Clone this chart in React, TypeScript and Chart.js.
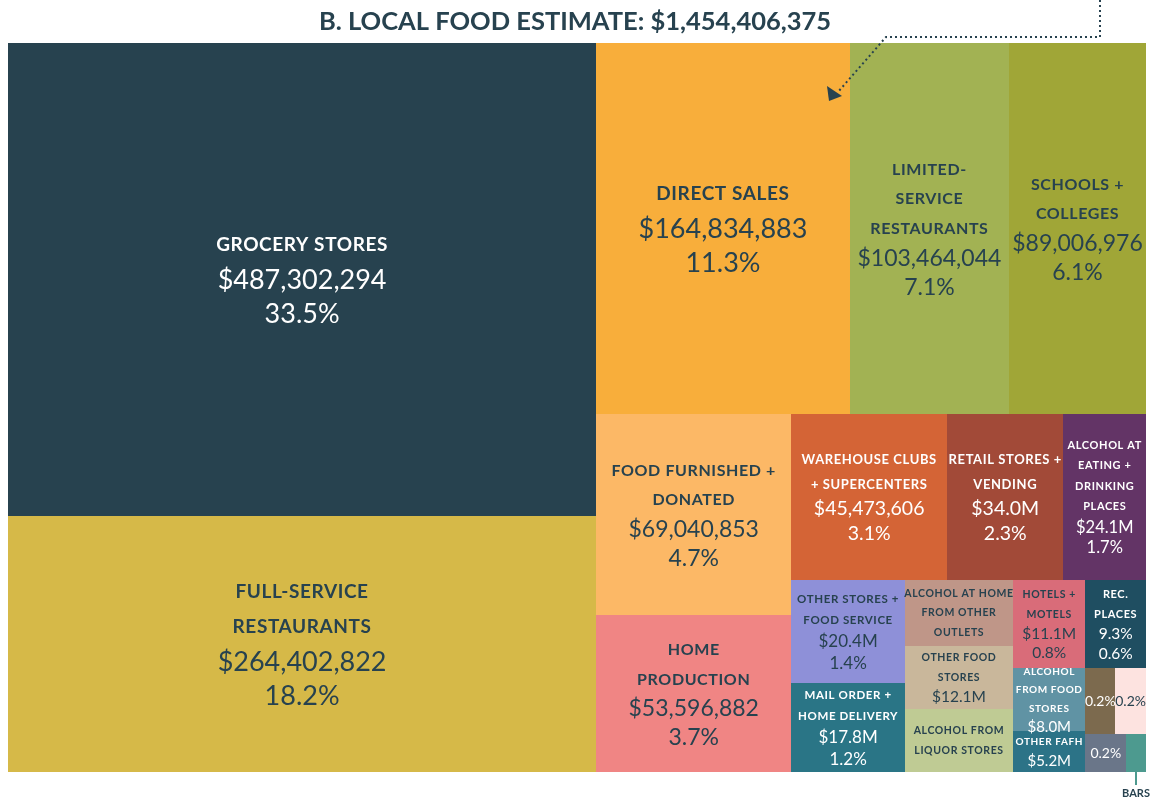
import React, { useEffect, useRef } from "react";
import { Chart, registerables } from "chart.js";

Chart.register(...registerables);

const TITLE = "B. LOCAL FOOD ESTIMATE: $1,454,406,375";

const categoryLines: string[][] = [
  ["GROCERY STORES"],
  ["FULL-SERVICE", "RESTAURANTS"],
  ["DIRECT SALES"],
  ["LIMITED-", "SERVICE", "RESTAURANTS"],
  ["SCHOOLS +", "COLLEGES"],
  ["FOOD FURNISHED +", "DONATED"],
  ["HOME", "PRODUCTION"],
  ["WAREHOUSE CLUBS", "+ SUPERCENTERS"],
  ["RETAIL STORES +", "VENDING"],
  ["ALCOHOL AT", "EATING +", "DRINKING", "PLACES"],
  ["OTHER STORES +", "FOOD SERVICE"],
  ["MAIL ORDER +", "HOME DELIVERY"],
  ["ALCOHOL AT HOME", "FROM OTHER", "OUTLETS"],
  ["OTHER FOOD", "STORES"],
  ["ALCOHOL FROM", "LIQUOR STORES"],
  ["HOTELS +", "MOTELS"],
  ["ALCOHOL", "FROM FOOD", "STORES"],
  ["OTHER FAFH"],
  ["REC.", "PLACES"],
  [],
  [],
  [],
  [],
];

const values: number[] = [
  487302294, 264402822, 164834883, 103464044, 89006976, 69040853, 53596882,
  45473606, 34000000, 24100000, 20400000, 17800000, 12400000, 12100000,
  11900000, 11100000, 8000000, 5200000, 9300000, 3500000, 3600000, 2700000,
  1300000,
];

const amountLabels: string[] = [
  "$487,302,294", "$264,402,822", "$164,834,883", "$103,464,044", "$89,006,976",
  "$69,040,853", "$53,596,882", "$45,473,606", "$34.0M", "$24.1M", "$20.4M",
  "$17.8M", "", "$12.1M", "", "$11.1M", "$8.0M", "$5.2M", "9.3%", "", "", "", "",
];

const pctLabels: string[] = [
  "33.5%", "18.2%", "11.3%", "7.1%", "6.1%", "4.7%", "3.7%", "3.1%", "2.3%",
  "1.7%", "1.4%", "1.2%", "", "", "", "0.8%", "", "", "0.6%", "0.2%", "0.2%",
  "0.2%", "",
];

const colors: string[] = [
  "#27424f", "#d6b948", "#f8ae3b", "#a2b253", "#a0a637", "#fcb866", "#f08584",
  "#d46436", "#a24a38", "#633466", "#8e90d8", "#2a7586", "#bf9688", "#c9b79b",
  "#bfcb94", "#d96c79", "#6093a4", "#2c7387", "#1f4e61", "#7c6a4e", "#fde3e0",
  "#6a7689", "#4d9a8f",
];

const DARK = "#27424f";
const WHITE = "#ffffff";
const textColors: string[] = [
  WHITE, DARK, DARK, DARK, DARK, DARK, DARK, WHITE, WHITE, WHITE, DARK, WHITE,
  DARK, DARK, DARK, DARK, WHITE, WHITE, WHITE, WHITE, DARK, WHITE, WHITE,
];

// [labelSize, numberSize]
const sizeClass: number[][] = [
  [19, 27], [19, 27], [19, 27], [16, 23], [16, 23], [16, 23], [16, 23],
  [13, 19.5], [13, 19.5], [11, 16.5], [11.5, 17], [11.5, 17], [10.5, 15.5],
  [10.5, 15.5], [10.5, 15.5], [10.5, 15.5], [10, 15], [10, 15], [11, 15.5],
  [14, 14], [14, 14], [14, 14], [14, 14],
];

// hierarchy of splits: "h" = side by side, "v" = stacked
const tree: any = ["h", [
  ["v", [0, 1]],
  ["v", [
    ["h", [2, 3, 4]],
    ["h", [
      ["v", [5, 6]],
      ["v", [
        ["h", [7, 8, 9]],
        ["h", [
          ["v", [10, 11]],
          ["v", [12, 13, 14]],
          ["v", [15, 16, 17]],
          ["v", [18, ["h", [19, 20]], ["h", [21, 22]]]],
        ]],
      ]],
    ]],
  ]],
]];

function nodeValue(n: any): number {
  if (typeof n === "number") return values[n];
  return n[1].reduce((s: number, c: any) => s + nodeValue(c), 0);
}

function layout(n: any, x0: number, y0: number, x1: number, y1: number, out: any[]) {
  if (typeof n === "number") {
    out.push({ i: n, x0, y0, x1, y1 });
    return;
  }
  const total = nodeValue(n);
  let acc = 0;
  for (const c of n[1]) {
    const v = nodeValue(c);
    const a = acc / total;
    const b = (acc + v) / total;
    if (n[0] === "h") layout(c, x0 + (x1 - x0) * a, y0, x0 + (x1 - x0) * b, y1, out);
    else layout(c, x0, y0 + (y1 - y0) * a, x1, y0 + (y1 - y0) * b, out);
    acc += v;
  }
}

const FONT = "Lato, 'Open Sans', sans-serif";

const treemapPlugin = {
  id: "treemapCells",
  afterDatasetsDraw(chart: any) {
    const ctx = chart.ctx as CanvasRenderingContext2D;
    const xs = chart.scales.x;
    const ys = chart.scales.y;
    const rects: any[] = [];
    layout(tree, 0, 0, 1, 1, rects);
    ctx.save();
    for (const r of rects) {
      const px0 = Math.round(xs.getPixelForValue(r.x0));
      const px1 = Math.round(xs.getPixelForValue(r.x1));
      const py0 = Math.round(ys.getPixelForValue(r.y0));
      const py1 = Math.round(ys.getPixelForValue(r.y1));
      ctx.fillStyle = colors[r.i];
      ctx.fillRect(px0, py0, px1 - px0, py1 - py0);
    }
    for (const r of rects) {
      const px0 = xs.getPixelForValue(r.x0);
      const px1 = xs.getPixelForValue(r.x1);
      const py0 = ys.getPixelForValue(r.y0);
      const py1 = ys.getPixelForValue(r.y1);
      const [ls, ns] = sizeClass[r.i];
      const lines: any[] = [];
      for (const t of categoryLines[r.i]) lines.push({ t, font: `700 ${ls}px ${FONT}`, lh: ls * 1.85, sp: "0.6px" });
      if (amountLabels[r.i]) lines.push({ t: amountLabels[r.i], font: `400 ${ns}px ${FONT}`, lh: ns * 1.26, sp: "0px" });
      if (pctLabels[r.i]) lines.push({ t: pctLabels[r.i], font: `400 ${ns}px ${FONT}`, lh: ns * 1.26, sp: "0px" });
      const H = lines.reduce((s, l) => s + l.lh, 0);
      let y = (py0 + py1) / 2 - H / 2;
      const cx = (px0 + px1) / 2;
      ctx.fillStyle = textColors[r.i];
      ctx.textAlign = "center";
      ctx.textBaseline = "middle";
      for (const l of lines) {
        ctx.font = l.font;
        (ctx as any).letterSpacing = l.sp;
        ctx.fillText(l.t, cx, y + l.lh / 2);
        y += l.lh;
      }
    }
    (ctx as any).letterSpacing = "0px";

    // title
    ctx.fillStyle = DARK;
    ctx.font = `700 25.5px ${FONT}`;
    ctx.textAlign = "center";
    ctx.textBaseline = "middle";
    ctx.fillText(TITLE, 575, 22);

    // dotted pointer
    ctx.strokeStyle = DARK;
    ctx.lineWidth = 2;
    ctx.setLineDash([2, 3]);
    ctx.beginPath();
    ctx.moveTo(1100, 0);
    ctx.lineTo(1100, 37);
    ctx.lineTo(886, 37);
    ctx.lineTo(838, 92);
    ctx.stroke();
    ctx.setLineDash([]);
    ctx.fillStyle = DARK;
    ctx.beginPath();
    ctx.moveTo(829, 101);
    ctx.lineTo(827, 86);
    ctx.lineTo(842, 96);
    ctx.closePath();
    ctx.fill();

    // BARS callout
    const bars = rects.find((r) => r.i === 22);
    const bx = Math.round((xs.getPixelForValue(bars.x0) + xs.getPixelForValue(bars.x1)) / 2);
    const by = ys.getPixelForValue(bars.y1);
    ctx.strokeStyle = colors[22];
    ctx.lineWidth = 2;
    ctx.beginPath();
    ctx.moveTo(bx, by);
    ctx.lineTo(bx, by + 13);
    ctx.stroke();
    ctx.fillStyle = DARK;
    ctx.font = `700 11px ${FONT}`;
    ctx.fillText("BARS", bx, by + 21);
    ctx.restore();
  },
};

export default function App() {
  const ref = useRef<HTMLCanvasElement | null>(null);
  useEffect(() => {
    document.body.style.margin = "0";
    const canvas = ref.current!;
    const chart = new Chart(canvas, {
      type: "scatter",
      data: { datasets: [{ data: [], pointRadius: 0 }] },
      options: {
        animation: false,
        responsive: false,
        layout: { padding: { left: 8, right: 6, top: 43, bottom: 26 } },
        plugins: { legend: { display: false }, tooltip: { enabled: false } },
        scales: {
          x: { type: "linear", min: 0, max: 1, display: false },
          y: { type: "linear", min: 0, max: 1, reverse: true, display: false },
        },
      },
      plugins: [treemapPlugin],
    });
    return () => chart.destroy();
  }, []);
  return (
    <div style={{ width: 1152, height: 798 }}>
      <canvas ref={ref} width={1152} height={798} style={{ display: "block" }} />
    </div>
  );
}
